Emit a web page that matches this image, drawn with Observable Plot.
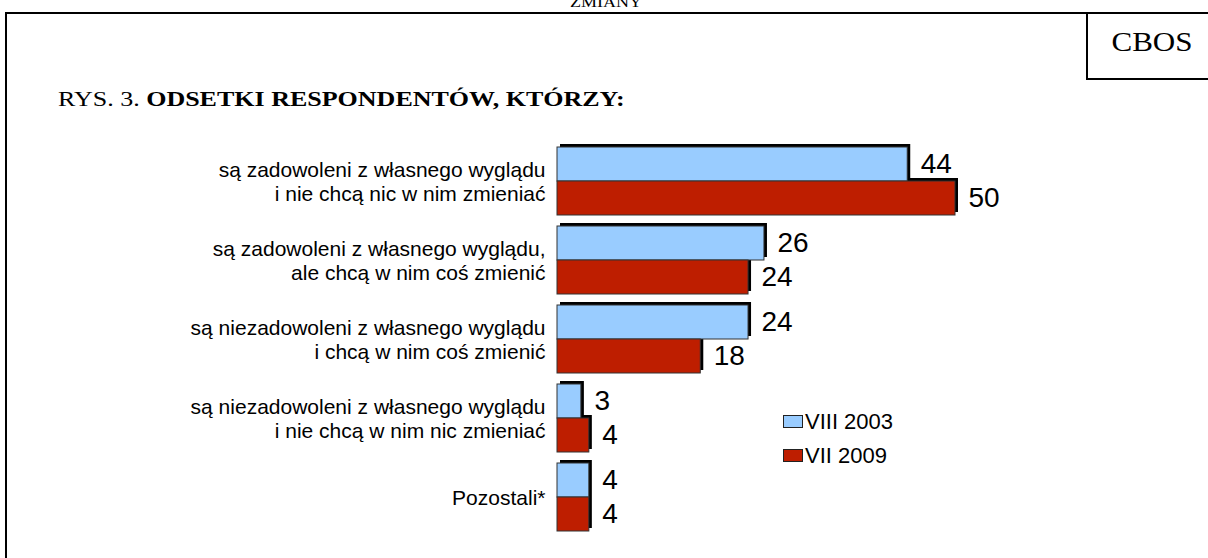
<!DOCTYPE html>
<html>
<head>
<meta charset="utf-8">
<script src="https://cdn.jsdelivr.net/npm/d3@7"></script>
<script src="https://cdn.jsdelivr.net/npm/@observablehq/plot@0.6"></script>
<style>
  html, body { margin: 0; padding: 0; background: #fff; }
  #wrap { position: relative; width: 1208px; height: 558px; overflow: hidden; }
  #wrap svg { position: absolute; left: 0; top: 0; }
  .serif { font-family: "Liberation Serif", "Times New Roman", serif; color: #000; position: absolute; white-space: nowrap; }
  .line { position: absolute; background: #000; }
  .leg { position: absolute; font-family: "Liberation Sans", Arial, sans-serif; font-size: 22px; color: #000; white-space: nowrap; }
  .sw { position: absolute; width: 18px; height: 11px; border: 1px solid #222; }
</style>
</head>
<body>
<div id="wrap"></div>
<script>
// ---- data ----
const categories = [
  "są zadowoleni z własnego wyglądu\ni nie chcą nic w nim zmieniać",
  "są zadowoleni z własnego wyglądu,\nale chcą w nim coś zmienić",
  "są niezadowoleni z własnego wyglądu\ni chcą w nim coś zmienić",
  "są niezadowoleni z własnego wyglądu\ni nie chcą w nim nic zmieniać",
  "Pozostali*"
];
const seriesNames = ["VIII 2003", "VII 2009"];
const values2003 = [44, 26, 24, 3, 4];
const values2009 = [50, 24, 18, 4, 4];
const seriesColors = ["#99CCFF", "#BE1E00"];
const titleNormal = "RYS. 3. ";
const titleBold = "ODSETKI RESPONDENTÓW, KTÓRZY:";
const topText = "ZMIANY";
const logoText = "CBOS";

const data = [];
categories.forEach((c, i) => {
  data.push({cat: c, series: seriesNames[0], value: values2003[i]});
  data.push({cat: c, series: seriesNames[1], value: values2009[i]});
});

const sans = "Liberation Sans, Arial, sans-serif";

const chart = Plot.plot({
  width: 1208,
  height: 558,
  marginTop: 146,
  marginBottom: 26,
  marginLeft: 0,
  marginRight: 0,
  x: {domain: [0, 50], range: [557, 955], axis: null},
  y: {domain: seriesNames, padding: 0, axis: null},
  fy: {domain: categories, paddingInner: 0.14, paddingOuter: 0, axis: null},
  color: {domain: seriesNames, range: seriesColors},
  style: {fontFamily: sans, background: "transparent", overflow: "visible"},
  marks: [
    Plot.barX(data, {x: "value", y: "series", fy: "cat", fill: "#000", dx: 3, dy: -3}),
    Plot.barX(data, {x: "value", y: "series", fy: "cat", fill: "series", stroke: "#333", strokeWidth: 1}),
    Plot.text(data, {x: "value", y: "series", fy: "cat", text: d => String(d.value),
      dx: 13, textAnchor: "start", fontSize: 28, fill: "#000", fontFamily: sans}),
    Plot.text(categories, {fy: d => d, x: () => 0, text: d => d, textAnchor: "end",
      dx: -12, fontSize: 21, lineHeight: 1.15, fill: "#000", fontFamily: sans})
  ]
});

const wrap = document.getElementById("wrap");
wrap.appendChild(chart);

function add(html) { wrap.insertAdjacentHTML("beforeend", html); }
// frame lines
add(`<div class="line" style="left:5px;top:12px;width:1203px;height:2px"></div>`);
add(`<div class="line" style="left:5px;top:12px;width:2px;height:546px"></div>`);
add(`<div class="line" style="left:1086px;top:12px;width:2px;height:68px"></div>`);
add(`<div class="line" style="left:1086px;top:78px;width:122px;height:2px"></div>`);
// top cut text
add(`<div class="serif" style="left:606px;top:-5px;font-size:15px;line-height:15px;transform:translateX(-50%) scaleX(1.2);">${topText}</div>`);
// CBOS
add(`<div class="serif" style="left:1152px;top:27px;font-size:27px;line-height:30px;transform:translateX(-50%) scaleX(1.15);">${logoText}</div>`);
// title
add(`<div class="serif" style="left:58px;top:87px;font-size:20px;line-height:24px;transform-origin:0 0;transform:scaleX(1.3);">${titleNormal}<b>${titleBold}</b></div>`);
// legend
seriesNames.forEach((s, i) => {
  const y = 415 + i * 34;
  add(`<div class="sw" style="left:783px;top:${y}px;background:${seriesColors[i]}"></div>`);
  add(`<div class="leg" style="left:805px;top:${y - 6}px;line-height:26px">${s}</div>`);
});
</script>
</body>
</html>
